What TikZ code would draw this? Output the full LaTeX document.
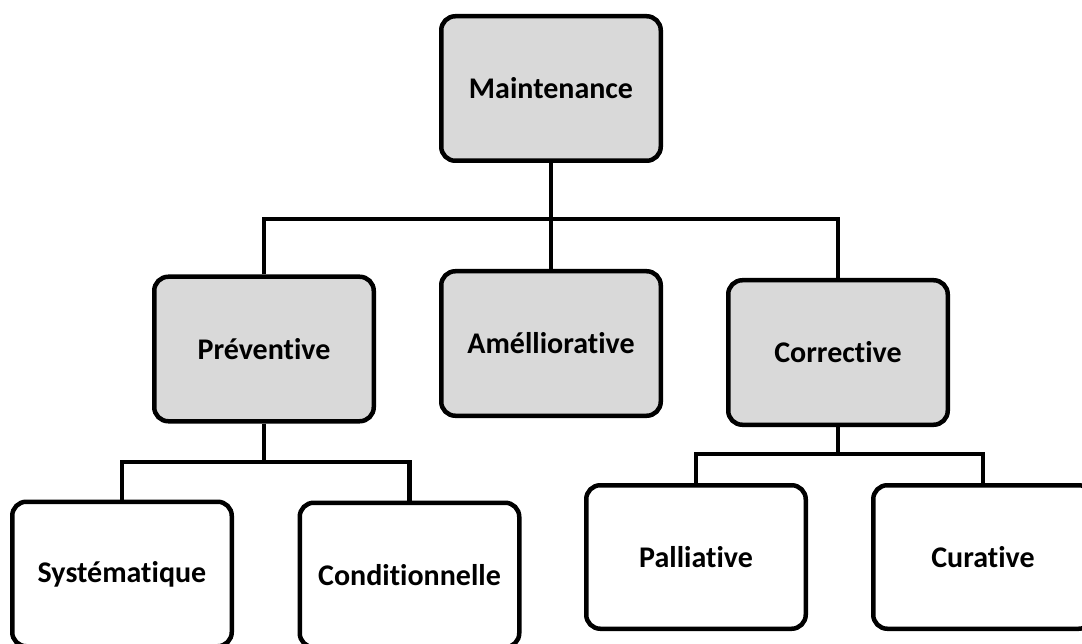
\documentclass[tikz,border=0pt]{standalone}
\usepackage{fontspec}
\setmainfont[Ligatures={NoCommon}]{Carlito}
\begin{document}
\begin{tikzpicture}[x=1pt,y=-1pt,
  box/.style={draw=black, line width=4.5pt, rounded corners=14pt, rectangle,
    minimum width=219.5pt, minimum height=144.5pt, align=center,
    font=\fontsize{30}{35}\selectfont\bfseries, inner sep=0pt},
  graybox/.style={box, fill=boxgray},
  whitebox/.style={box, fill=white},
  conn/.style={draw=black, line width=4.5pt}]
\definecolor{boxgray}{HTML}{D9D9D9}
\useasboundingbox (0,0) rectangle (1082,644);
\clip (0,0) rectangle (1082,644);
\fill[white] (0,0) rectangle (1082,644);
% nodes
\node[graybox] (M) at (551,88.5) {Maintenance};
\node[graybox] (P) at (264,349) {Préventive};
\node[graybox] (A) at (551,343.5) {Amélliorative};
\node[graybox] (C) at (838,352.5) {Corrective};
\node[whitebox] (S) at (122,574) {Systématique};
\node[whitebox] (D) at (409.5,575) {Conditionnelle};
\node[whitebox, minimum height=143.5pt] (Pa) at (696,557) {Palliative};
\node[whitebox, minimum height=143.5pt] (Cu) at (983,557) {Curative};
% junction coordinates
\coordinate (j1) at (551,219);
\coordinate (j2) at (264,462);
\coordinate (j3) at (838,454);
% connectors
\draw[conn] (M.south) -- (A.north);
\draw[conn] (P.north) |- (j1) -| (C.north);
\draw[conn] (P.south) -- (j2);
\draw[conn] (S.north) |- (j2) -| (D.north);
\draw[conn] (C.south) -- (j3);
\draw[conn] (Pa.north) |- (j3) -| (Cu.north);
\end{tikzpicture}
\end{document}
